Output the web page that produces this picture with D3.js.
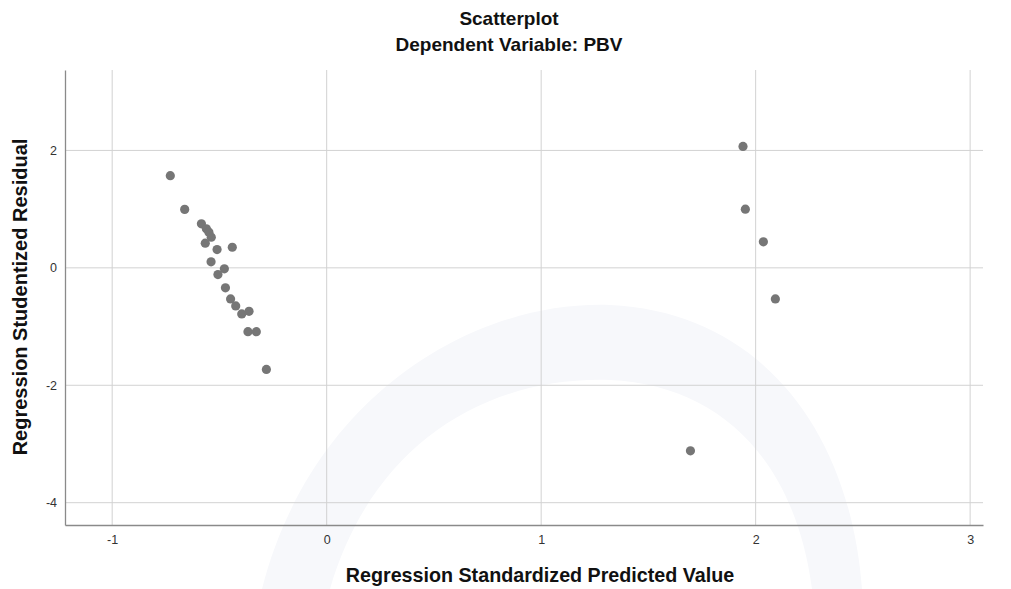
<!DOCTYPE html>
<html>
<head>
<meta charset="utf-8">
<script src="https://cdn.jsdelivr.net/npm/d3@7"></script>
<style>
  body { margin: 0; background: #fff; }
  svg { display: block; font-family: "Liberation Sans", Arial, sans-serif; }
</style>
</head>
<body>
<script>
// Dati (valore previsto standardizzato, residuo studentizzato)
var predicted = [-0.729, -0.662, -0.584, -0.561, -0.549, -0.538, -0.566, -0.511, -0.440, -0.539,
                 -0.477, -0.507, -0.472, -0.448, -0.424, -0.396, -0.362, -0.367, -0.328, -0.281,
                 1.941, 1.952, 2.036, 2.092, 1.696];
var residual = [1.57, 0.996, 0.75, 0.665, 0.607, 0.522, 0.42, 0.312, 0.351, 0.102,
                -0.017, -0.114, -0.341, -0.529, -0.648, -0.785, -0.740, -1.087, -1.087, -1.73,
                2.069, 1.0, 0.444, -0.529, -3.117];
var xTicks = [-1, 0, 1, 2, 3];
var yTicks = [-4, -2, 0, 2];

var width = 1011;
var height = 589;
var margin = { top: 70, right: 28, bottom: 64, left: 65 };

var svg = d3.select("body")
  .append("svg")
  .attr("width", width)
  .attr("height", height);

// Filigrana leggera sullo sfondo (solo l'arco)
svg.append("path")
  .attr("d", "M262,589 C310,400 470,300 610,305 C760,312 850,430 862,589 L812,589 C795,460 720,385 610,380 C480,376 370,450 330,589 Z")
  .attr("fill", "#f7f8fb");

// Scale
var xScale = d3.scaleLinear()
  .domain([-1.22, 3.06])
  .range([margin.left, width - margin.right]);

var yScale = d3.scaleLinear()
  .domain([-4.38, 3.37])
  .range([height - margin.bottom, margin.top]);

// Griglia
svg.append("g")
  .selectAll("line")
  .data(xTicks)
  .enter()
  .append("line")
  .attr("x1", function (d) { return xScale(d); })
  .attr("x2", function (d) { return xScale(d); })
  .attr("y1", margin.top)
  .attr("y2", height - margin.bottom)
  .attr("stroke", "#d2d2d2")
  .attr("stroke-width", 1);

svg.append("g")
  .selectAll("line")
  .data(yTicks)
  .enter()
  .append("line")
  .attr("x1", margin.left)
  .attr("x2", width - margin.right)
  .attr("y1", function (d) { return yScale(d); })
  .attr("y2", function (d) { return yScale(d); })
  .attr("stroke", "#d2d2d2")
  .attr("stroke-width", 1);

// Assi
var fmt = function (d) { return String(d); };
var xAxis = d3.axisBottom(xScale).tickValues(xTicks).tickFormat(fmt).tickSize(0).tickPadding(10);
var yAxis = d3.axisLeft(yScale).tickValues(yTicks).tickFormat(fmt).tickSize(0).tickPadding(8);

var gx = svg.append("g")
  .attr("transform", "translate(0," + (height - margin.bottom) + ")")
  .call(xAxis);
gx.select(".domain").attr("stroke", "#8a8a8a").attr("stroke-width", 1.3);

var gy = svg.append("g")
  .attr("transform", "translate(" + margin.left + ",0)")
  .call(yAxis);
gy.select(".domain").attr("stroke", "#8a8a8a").attr("stroke-width", 1.3);

svg.selectAll(".tick text")
  .attr("font-family", "Liberation Sans, Arial, sans-serif")
  .attr("font-size", 12.5)
  .attr("fill", "#333");

// Punti
svg.append("g")
  .selectAll("circle")
  .data(predicted)
  .enter()
  .append("circle")
  .attr("cx", function (d) { return xScale(d); })
  .attr("cy", function (d, i) { return yScale(residual[i]); })
  .attr("r", 4.6)
  .attr("fill", "#767676");

// Titoli
svg.append("text")
  .attr("x", 509)
  .attr("y", 25)
  .attr("text-anchor", "middle")
  .attr("font-size", 19)
  .attr("font-weight", "bold")
  .attr("fill", "#111")
  .text("Scatterplot");

svg.append("text")
  .attr("x", 509)
  .attr("y", 51)
  .attr("text-anchor", "middle")
  .attr("font-size", 19)
  .attr("font-weight", "bold")
  .attr("fill", "#111")
  .text("Dependent Variable: PBV");

svg.append("text")
  .attr("x", 540)
  .attr("y", 582)
  .attr("text-anchor", "middle")
  .attr("font-size", 19.7)
  .attr("font-weight", "bold")
  .attr("fill", "#111")
  .text("Regression Standardized Predicted Value");

svg.append("text")
  .attr("transform", "translate(27,297) rotate(-90)")
  .attr("text-anchor", "middle")
  .attr("font-size", 20)
  .attr("font-weight", "bold")
  .attr("fill", "#111")
  .text("Regression Studentized Residual");
</script>
</body>
</html>
